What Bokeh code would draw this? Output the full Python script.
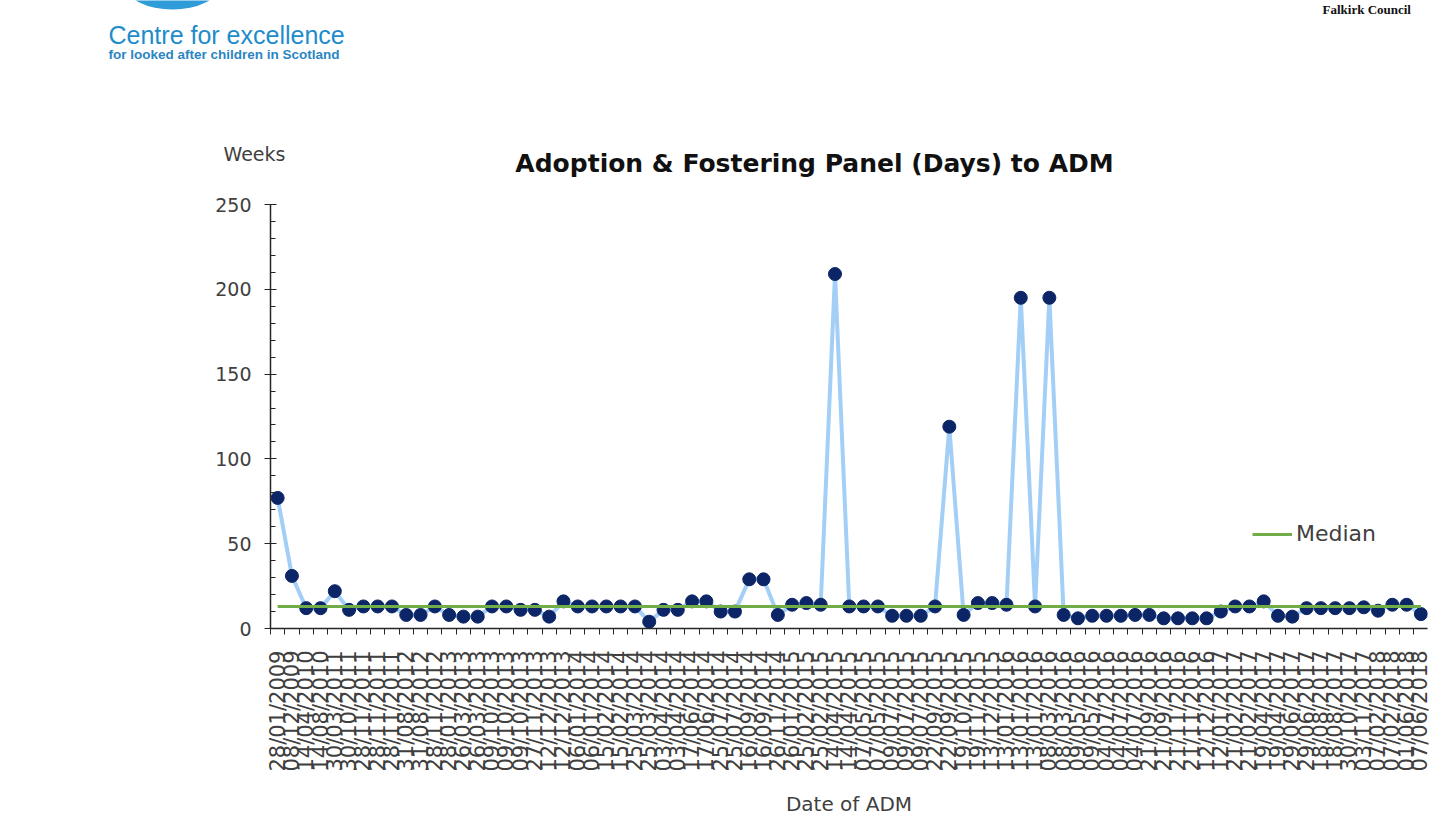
import math
from bokeh.plotting import figure
from bokeh.models import (FixedTicker, SingleIntervalTicker, Range1d, Label,
                          Legend, LegendItem, ColumnDataSource)
from bokeh.embed import file_html
from bokeh.resources import INLINE

# ---------------- data ----------------
dates = [
    "28/01/2009", "08/12/2009", "14/04/2010", "14/08/2010", "30/03/2011",
    "30/10/2011", "28/11/2011", "28/11/2011", "28/11/2011", "31/08/2012",
    "31/08/2012", "28/11/2012", "28/01/2013", "26/03/2013", "26/03/2013",
    "09/10/2013", "09/10/2013", "09/10/2013", "27/11/2013", "12/12/2013",
    "12/12/2013", "06/01/2014", "06/01/2014", "15/02/2014", "15/02/2014",
    "25/03/2014", "25/03/2014", "03/04/2014", "03/04/2014", "17/06/2014",
    "17/06/2014", "25/07/2014", "25/07/2014", "16/09/2014", "16/09/2014",
    "26/11/2014", "26/01/2015", "25/02/2015", "25/02/2015", "14/04/2015",
    "14/04/2015", "07/05/2015", "07/05/2015", "09/07/2015", "09/07/2015",
    "09/07/2015", "22/09/2015", "22/09/2015", "19/10/2015", "19/11/2015",
    "13/12/2015", "13/01/2016", "13/01/2016", "13/01/2016", "08/03/2016",
    "08/03/2016", "09/05/2016", "09/05/2016", "04/07/2016", "04/07/2016",
    "04/07/2016", "21/09/2016", "21/09/2016", "21/11/2016", "21/11/2016",
    "12/12/2016", "12/01/2017", "21/02/2017", "21/02/2017", "19/04/2017",
    "19/04/2017", "29/06/2017", "29/06/2017", "18/08/2017", "18/08/2017",
    "30/10/2017", "03/11/2017", "07/02/2018", "07/02/2018", "01/06/2018",
    "07/06/2018",
]

weeks = [
    77, 31, 12, 12, 22, 11, 13, 13, 13, 8,
    8, 13, 8, 7, 7, 13, 13, 11, 11, 7,
    16, 13, 13, 13, 13, 13, 4, 11, 11, 16,
    16, 10, 10, 29, 29, 8, 14, 15, 14, 209,
    13, 13, 13, 7.5, 7.5, 7.5, 13, 119, 8, 15,
    15, 14, 195, 13, 195, 8, 6, 7.5, 7.5, 7.5,
    8, 8, 6, 6, 6, 6, 10, 13, 13, 16,
    7.5, 7, 12, 12, 12, 12, 12.5, 10.5, 14, 14,
    8.5,
]

median_weeks = 13

y_ticks_interval = 50
title_text = "Adoption & Fostering Panel (Days) to ADM"
y_title = "Weeks"
x_title = "Date of ADM"
legend_label = "Median"
logo_line1 = "Centre for excellence"
logo_line2 = "for looked after children in Scotland"
org_text = "Falkirk Council"

FONT = "DejaVu Sans"
TEXT_COL = "#404040"
W = 1431
HEADER_H = 186
CHART_H = 632

# ---------------- header (logo, title, y title) ----------------
hdr = figure(width=W, height=HEADER_H, output_backend="svg", toolbar_location=None,
             x_range=Range1d(0, W), y_range=Range1d(HEADER_H, 0),
             x_axis_location=None, y_axis_location=None, min_border=0)
hdr.outline_line_color = None
hdr.xgrid.visible = False
hdr.ygrid.visible = False

# logo swoosh (decoration)
hdr.ellipse(x=[172], y=[-14], width=[92], height=[46],
            fill_color="#2f9bd8", line_color=None)

hdr.add_layout(Label(x=108, y=20, text=logo_line1, text_align="left",
                     text_baseline="top", text_font="Liberation Sans",
                     text_font_size="25px", text_color="#1e8ccb"))
hdr.add_layout(Label(x=108, y=46, text=logo_line2, text_align="left",
                     text_baseline="top", text_font="Liberation Sans",
                     text_font_style="bold", text_font_size="13.5px",
                     text_color="#2a86c2"))
hdr.add_layout(Label(x=1322, y=1, text=org_text, text_align="left",
                     text_baseline="top", text_font="Liberation Serif",
                     text_font_style="bold", text_font_size="13px",
                     text_color="#111111"))
hdr.add_layout(Label(x=814, y=163, text=title_text, text_align="center",
                     text_baseline="middle", text_font=FONT,
                     text_font_style="bold", text_font_size="25px",
                     text_color="#111111"))
hdr.add_layout(Label(x=223, y=153, text=y_title, text_align="left",
                     text_baseline="middle", text_font=FONT,
                     text_font_size="19px", text_color=TEXT_COL))

# ---------------- chart ----------------
x = list(range(len(dates)))
src = ColumnDataSource(dict(x=x, weeks=weeks,
                            median=[median_weeks] * len(x), date=dates))

p = figure(width=W, height=CHART_H, output_backend="svg", toolbar_location=None,
           x_range=Range1d(-0.5, 80.46), y_range=Range1d(0, 250),
           min_border_left=270, min_border_right=4,
           min_border_top=18, min_border_bottom=180)
p.outline_line_color = None
p.xgrid.visible = False
p.ygrid.visible = False

p.line('x', 'weeks', source=src, line_color="#a3cff7", line_width=4)
p.scatter('x', 'weeks', source=src, size=13, fill_color="#0b2566",
          line_color="#0b2566")
med = p.line('x', 'median', source=src, line_color="#70ad47", line_width=3)

# x axis
xa = p.xaxis[0]
xa.ticker = FixedTicker(ticks=x, minor_ticks=[i - 0.5 for i in range(len(x) + 1)])
xa.major_label_overrides = {i: d for i, d in enumerate(dates)}
xa.major_label_orientation = math.pi / 2
xa.major_tick_in = 0
xa.major_tick_out = 0
xa.minor_tick_in = 0
xa.minor_tick_out = 6
xa.major_label_standoff = 16
xa.major_label_text_font = FONT
xa.major_label_text_font_size = "21px"
xa.major_label_text_color = TEXT_COL
xa.axis_line_color = "#262626"
xa.minor_tick_line_color = "#262626"
xa.axis_line_width = 1.5
xa.axis_label = x_title
xa.axis_label_standoff = 17
xa.axis_label_text_font = FONT
xa.axis_label_text_font_size = "20px"
xa.axis_label_text_font_style = "normal"
xa.axis_label_text_color = TEXT_COL

# y axis
ya = p.yaxis[0]
ya.ticker = SingleIntervalTicker(interval=y_ticks_interval, num_minor_ticks=5)
ya.major_tick_in = 6
ya.major_tick_out = 6
ya.minor_tick_in = 5
ya.minor_tick_out = 0
ya.major_label_standoff = 13
ya.major_label_text_font = FONT
ya.major_label_text_font_size = "19px"
ya.major_label_text_color = TEXT_COL
ya.axis_line_color = "#262626"
ya.major_tick_line_color = "#262626"
ya.minor_tick_line_color = "#262626"
ya.axis_line_width = 1.5

# legend
legend = Legend(items=[LegendItem(label=legend_label, renderers=[med])],
                location=(982, 82), orientation="vertical",
                glyph_width=40, glyph_height=20, label_standoff=4,
                padding=0, margin=0, spacing=0,
                border_line_color=None, background_fill_alpha=0,
                label_text_font=FONT, label_text_font_size="22px",
                label_text_color=TEXT_COL)
p.add_layout(legend)

# two independent roots stacked on the page (no frame alignment between them)
open("out.html", "w").write(file_html([hdr, p], INLINE))
